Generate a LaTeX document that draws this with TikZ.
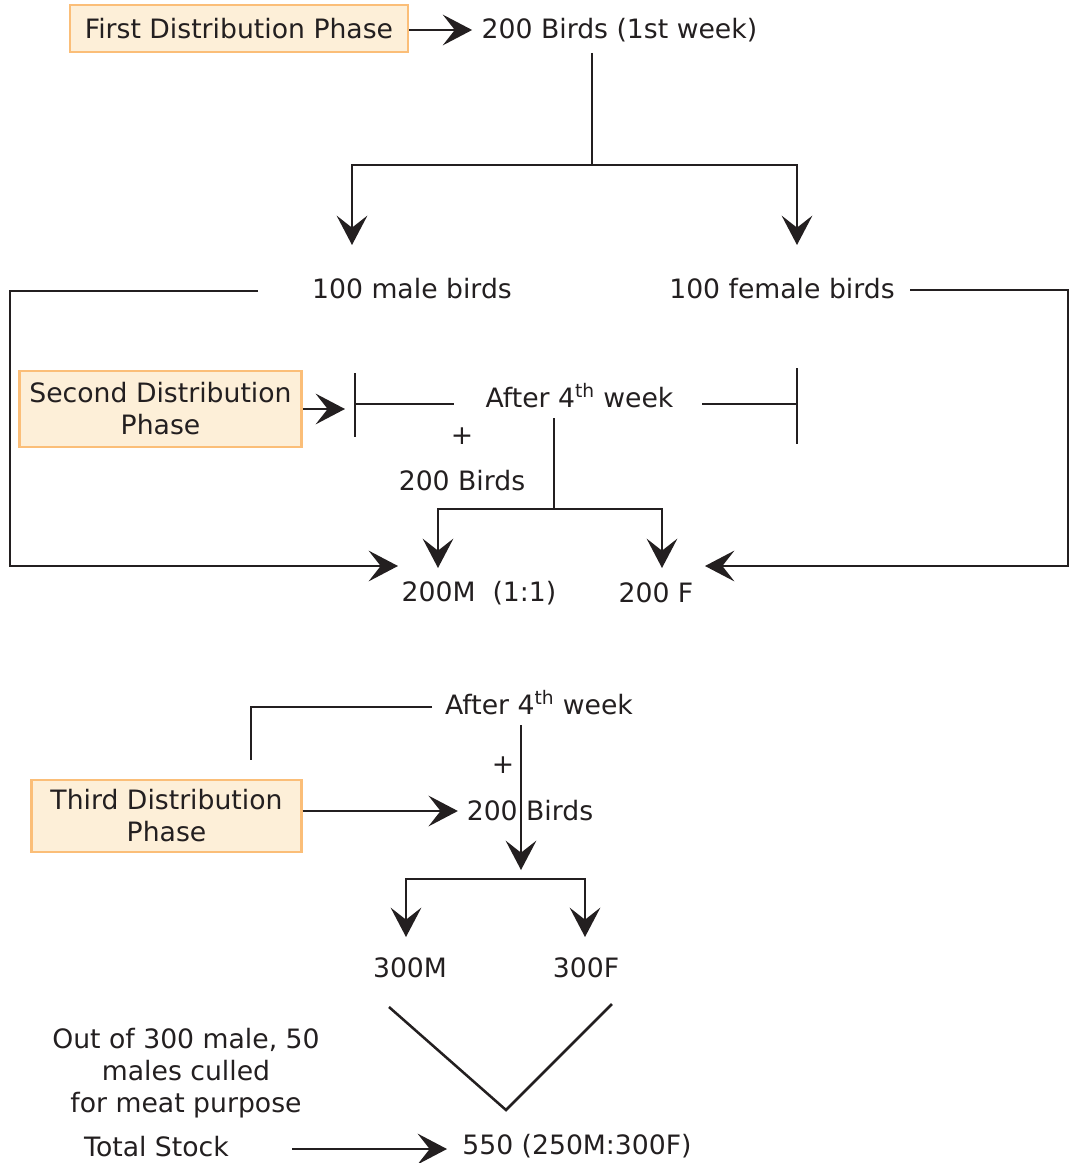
\documentclass[tikz,border=0pt]{standalone}
\usepackage{fontspec}
\setmainfont{DejaVu Sans}
\usetikzlibrary{arrows.meta,positioning,calc}
\definecolor{ink}{HTML}{231F20}
\definecolor{phasefill}{HTML}{FDEFD8}
\definecolor{phasedraw}{HTML}{FBBE78}

\begin{document}
\begin{tikzpicture}[
        x=0.75pt, y=-0.75pt,
        font=\fontsize{20}{24}\selectfont,
        every node/.style={text=ink},
        phasebox/.style={rectangle, draw=phasedraw, fill=phasefill, line width=2.2pt, align=center, inner sep=0pt},
        txt/.style={inner sep=0pt, align=center},
        conn/.style={draw=ink, line width=1.9pt},
        arrow/.style={conn, -{Stealth[length=22pt, width=23pt, inset=9pt]}}
    ]
    \useasboundingbox (0,0) rectangle (1070,1163);

    % Nodes
    \node (first) [phasebox, minimum width=253.5pt, minimum height=35.25pt] at (239,28.5) {First Distribution Phase};
    \node (birds1) [txt] at (619.5,30) {200 Birds (1st week)};
    \node (male) [txt] at (412,289) {100 male birds};
    \node (female) [txt] at (782,289) {100 female birds};

    \node (second) [phasebox, minimum width=212pt, minimum height=57pt] at (160.5,409) {Second Distribution\\Phase};
    \node (after1) [txt] at (579.5,396) {After 4\textsuperscript{th} week};
    \node (plus1) [txt] at (462,436) {+};
    \node (extra1) [txt] at (462,481) {200 Birds};
    \node (m200) [txt] at (479,593) {200M~~(1:1)};
    \node (f200) [txt] at (656,593) {200 F};

    \node (after2) [txt] at (539,703) {After 4\textsuperscript{th} week};
    \node (plus2) [txt] at (503,765) {+};
    \node (third) [phasebox, minimum width=202pt, minimum height=54pt] at (166.5,816) {Third Distribution\\Phase};
    \node (extra2) [txt] at (530,811) {200 Birds};
    \node (m300) [txt] at (410,968) {300M};
    \node (f300) [txt] at (586,968) {300F};

    \node (culled) [txt] at (186,1073) {Out of 300 male, 50\\males culled\\for meat purpose};
    \node (total) [txt] at (156.5,1147) {Total Stock};
    \node (stock) [txt] at (577,1146) {550 (250M:300F)};

    % Free ends
    \coordinate (fork1) at (592,165);
    \coordinate (maleIn) at (352,245);
    \coordinate (femaleIn) at (797,245);
    \coordinate (maleOut) at (258,291);
    \coordinate (femaleOut) at (910,290);
    \coordinate (m200In) at (398,566);
    \coordinate (f200In) at (705,566);
    \coordinate (brL) at (355,404);
    \coordinate (brR) at (797,404);
    \coordinate (fork2) at (554,509);
    \coordinate (fork3) at (521,879);
    \coordinate (vtip) at (506,1110);
    \coordinate (stockIn) at (447,1149);

    % Connections
    \draw [arrow] (first.east |- birds1) -- ([xshift=-7pt]birds1.west);
    \draw [conn] (592,53) -- (fork1);
    \draw [arrow] (fork1) -| (maleIn);
    \draw [arrow] (fork1) -| (femaleIn);

    \draw [arrow] (maleOut) -- (10,291) |- (m200In);
    \draw [arrow] (femaleOut) -- (1068,290) |- (f200In);

    \draw [arrow] (second.east) -- (345,409);
    \draw [conn] (355,373) -- (355,437);
    \draw [conn] (brL) -- (454,404);
    \draw [conn] (702,404) -- (brR);
    \draw [conn] (797,368) -- (797,444);

    \draw [conn] (554,418) -- (fork2);
    \draw [arrow] (fork2) -| (438,568);
    \draw [arrow] (fork2) -| (662,568);

    \draw [conn] (432,707) -| (251,760);
    \draw [arrow] (521,725) -- (521,870);
    \draw [arrow] (third.east |- extra2) -- ([xshift=-6.5pt]extra2.west);
    \draw [arrow] (fork3) -| (406,937);
    \draw [arrow] (fork3) -| (585,937);

    \draw [conn] (389,1007) -- (vtip) -- (612,1004);
    \draw [arrow] (292,1149) -- (stockIn);

\end{tikzpicture}
\end{document}
